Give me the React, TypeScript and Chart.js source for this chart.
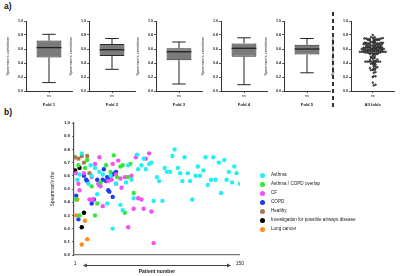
import React, { useEffect, useRef } from 'react';
import { Chart, registerables } from 'chart.js';

Chart.register(...registerables);
Chart.defaults.font.family = '"Liberation Sans", Arial, sans-serif';
Chart.defaults.color = '#222';

// ---------- Panel a) box plots per fold ----------
const foldNames = ['Fold 1', 'Fold 2', 'Fold 3', 'Fold 4', 'Fold 5'];
const foldMin = [0.12, 0.31, 0.10, 0.09, 0.26];
const foldQ1 = [0.48, 0.50, 0.44, 0.49, 0.52];
const foldMedian = [0.62, 0.59, 0.56, 0.61, 0.60];
const foldQ3 = [0.72, 0.67, 0.61, 0.68, 0.66];
const foldMax = [0.81, 0.75, 0.70, 0.76, 0.75];
const sigLabel = 'ns';
const allFoldsName = 'All folds';

// ---------- Panel b) per-patient Spearman's rho ----------
const groupNames = [
  'Asthma',
  'Asthma / COPD overlap',
  'CF',
  'COPD',
  'Healthy',
  'Investigation for possible airways disease',
  'Lung cancer',
];
const groupColors = ['#22f0f2', '#35e835', '#f550f5', '#1f3cf2', '#a67c52', '#000000', '#ff8c1a'];

const asthmaPatients = [3, 5, 7, 13, 15, 16, 19, 21, 23, 26, 30, 33, 35, 38, 42, 44, 47, 49, 52, 54, 57, 58, 61, 63, 65, 68, 70, 72, 75, 77, 80, 82, 84, 87, 89, 91, 94, 96, 98, 100, 103, 105, 107, 110, 112, 114, 117, 119, 121, 124, 126, 128, 131, 133, 136, 138, 140, 143, 145, 147, 150];
const asthmaRho = [0.57, 0.61, 0.77, 0.54, 0.68, 0.60, 0.66, 0.46, 0.63, 0.61, 0.39, 0.60, 0.20, 0.54, 0.38, 0.34, 0.55, 0.68, 0.57, 0.43, 0.76, 0.65, 0.68, 0.73, 0.65, 0.69, 0.70, 0.41, 0.59, 0.56, 0.41, 0.66, 0.63, 0.63, 0.75, 0.80, 0.66, 0.62, 0.56, 0.74, 0.62, 0.56, 0.42, 0.60, 0.67, 0.60, 0.64, 0.74, 0.53, 0.57, 0.74, 0.57, 0.70, 0.47, 0.72, 0.57, 0.63, 0.55, 0.67, 0.62, 0.54];

const overlapPatients = [2, 4, 5, 10, 12, 16, 19, 21, 24, 29, 33, 36, 39, 42, 44, 46, 49, 51, 54];
const overlapRho = [0.42, 0.68, 0.30, 0.66, 0.72, 0.52, 0.30, 0.39, 0.55, 0.68, 0.63, 0.755, 0.59, 0.67, 0.68, 0.32, 0.59, 0.69, 0.47];

const cfPatients = [2, 4, 5, 9, 14, 16, 17, 19, 22, 23, 24, 26, 31, 34, 35, 38, 38, 40, 42, 43, 46, 48, 49, 52, 54, 56, 58, 61, 63, 65, 68, 70, 72];
const cfRho = [0.62, 0.54, 0.49, 0.62, 0.42, 0.59, 0.42, 0.69, 0.54, 0.74, 0.52, 0.37, 0.56, 0.57, 0.69, 0.54, 0.61, 0.715, 0.58, 0.51, 0.59, 0.59, 0.21, 0.60, 0.35, 0.74, 0.43, 0.42, 0.35, 0.73, 0.77, 0.33, 0.09];

const copdPatients = [2, 4, 9, 11, 12, 16, 18, 21, 23, 26, 27, 29, 30, 31, 32, 33, 35, 35, 37, 38];
const copdRho = [0.45, 0.27, 0.60, 0.57, 0.56, 0.39, 0.42, 0.57, 0.53, 0.57, 0.65, 0.56, 0.59, 0.49, 0.48, 0.58, 0.44, 0.61, 0.62, 0.63];

const healthyPatients = [1, 4, 7, 9, 12, 14];
const healthyRho = [0.74, 0.73, 0.75, 0.70, 0.75, 0.62];

const investigationPatients = [1, 5, 7, 9];
const investigationRho = [0.64, 0.66, 0.21, 0.32];

const lungCancerPatients = [2, 3, 7, 10, 12];
const lungCancerRho = [0.30, 0.42, 0.08, 0.26, 0.12];

const groupPatients = [asthmaPatients, overlapPatients, cfPatients, copdPatients, healthyPatients, investigationPatients, lungCancerPatients];
const groupRho = [asthmaRho, overlapRho, cfRho, copdRho, healthyRho, investigationRho, lungCancerRho];

const xTickValues = [1, 150];
const bottomXTitle = 'Patient number';
const rhoTitle = "Spearman's rho";
const corrTitle = "Spearman's correlation";

// ---------- layout ----------
const foldAxisX = [26, 89, 156, 221, 284];
const allAxisX = 351;
const AXIS_COLOR = '#333';

function ChartCanvas({ left, top, width, height, build }: { left: number; top: number; width: number; height: number; build: () => any }) {
  const ref = useRef<HTMLCanvasElement | null>(null);
  useEffect(() => {
    const chart = new Chart(ref.current as HTMLCanvasElement, build());
    return () => chart.destroy();
  }, []);
  return (
    <canvas
      ref={ref}
      width={width}
      height={height}
      style={{ position: 'absolute', left, top, width, height }}
    />
  );
}

function smallYScale(step: number) {
  return {
    min: 0,
    max: 1,
    ticks: {
      stepSize: step,
      callback: (v: any) => Number(v).toFixed(1),
      font: { size: 3.6, weight: 'bold' },
      padding: 1,
      color: '#222',
    },
    grid: { display: true, drawOnChartArea: false, drawTicks: true, tickLength: 2, color: AXIS_COLOR, lineWidth: 0.8 },
    border: { color: AXIS_COLOR, width: 1 },
    title: { display: true, text: corrTitle, font: { size: 3.8 }, padding: 0, color: '#222' },
    afterFit: (s: any) => {
      s.width = 20;
    },
  };
}

function smallXTitle(text: string) {
  return { display: true, text, font: { size: 4.2, weight: 'bold' }, padding: { top: 0, bottom: 0 }, color: '#222' };
}

function buildFold(i: number) {
  return () => ({
    type: 'bar',
    data: {
      labels: [sigLabel],
      datasets: [
        {
          data: [[foldQ1[i], foldQ3[i]]],
          backgroundColor: '#7b7b7b',
          borderColor: '#2a2a2a',
          borderWidth: 1,
          borderSkipped: false,
          barPercentage: 0.54,
          categoryPercentage: 1,
        },
      ],
    },
    options: {
      animation: false,
      responsive: false,
      maintainAspectRatio: false,
      layout: { padding: { top: 6, right: 2, left: 0, bottom: 0 } },
      plugins: { legend: { display: false }, tooltip: { enabled: false } },
      scales: {
        x: {
          ticks: { font: { size: 3.6 }, padding: 1, color: '#222' },
          grid: { display: true, offset: false, drawOnChartArea: false, drawTicks: true, tickLength: 2, color: AXIS_COLOR, lineWidth: 0.8 },
          border: { color: AXIS_COLOR, width: 1 },
          title: smallXTitle(foldNames[i]),
          afterFit: (s: any) => {
            s.height = 16;
          },
        },
        y: smallYScale(0.2),
      },
    },
    plugins: [
      {
        id: 'whiskers',
        afterDatasetsDraw(chart: any) {
          const bar = chart.getDatasetMeta(0).data[0] as any;
          const y = chart.scales.y;
          const cx = bar.x;
          const w = bar.width;
          const ctx = chart.ctx;
          const yMin = y.getPixelForValue(foldMin[i]);
          const yQ1 = y.getPixelForValue(foldQ1[i]);
          const yQ3 = y.getPixelForValue(foldQ3[i]);
          const yMax = y.getPixelForValue(foldMax[i]);
          const yMed = y.getPixelForValue(foldMedian[i]);
          ctx.save();
          ctx.strokeStyle = '#222';
          ctx.lineWidth = 1;
          ctx.beginPath();
          ctx.moveTo(cx, yQ1);
          ctx.lineTo(cx, yMin);
          ctx.moveTo(cx, yQ3);
          ctx.lineTo(cx, yMax);
          ctx.moveTo(cx - w * 0.27, yMin);
          ctx.lineTo(cx + w * 0.27, yMin);
          ctx.moveTo(cx - w * 0.27, yMax);
          ctx.lineTo(cx + w * 0.27, yMax);
          ctx.stroke();
          ctx.lineWidth = 1.3;
          ctx.beginPath();
          ctx.moveTo(cx - w / 2, yMed);
          ctx.lineTo(cx + w / 2, yMed);
          ctx.stroke();
          ctx.restore();
        },
      },
    ],
  });
}

// beeswarm layout of all patient values (x offsets derived from the values)
function beeswarm(values: number[], bin: number, spacing: number) {
  const bins = new Map<number, number[]>();
  values.forEach((v) => {
    const b = Math.round(v / bin);
    if (!bins.has(b)) bins.set(b, []);
    (bins.get(b) as number[]).push(v);
  });
  const pts: { x: number; y: number }[] = [];
  bins.forEach((vals) => {
    vals.sort((a, b) => a - b);
    const n = vals.length;
    vals.forEach((v, k) => {
      const slot = k === 0 ? 0 : k % 2 === 1 ? Math.ceil(k / 2) : -k / 2;
      const off = n % 2 === 0 ? slot + 0.5 * (k === 0 ? 1 : Math.sign(slot) || 1) : slot;
      pts.push({ x: off * spacing, y: v });
    });
  });
  return pts;
}

function buildAllFolds() {
  const allValues = ([] as number[]).concat(...groupRho);
  const pts = beeswarm(allValues, 0.022, 0.085);
  return () => ({
    type: 'scatter',
    data: {
      datasets: [
        {
          data: pts,
          pointRadius: 0.9,
          pointBackgroundColor: '#555',
          pointBorderColor: '#111',
          pointBorderWidth: 0.5,
        },
      ],
    },
    options: {
      animation: false,
      responsive: false,
      maintainAspectRatio: false,
      layout: { padding: { top: 6, right: 2, left: 0, bottom: 0 } },
      plugins: { legend: { display: false }, tooltip: { enabled: false } },
      scales: {
        x: {
          type: 'linear',
          min: -1,
          max: 1,
          afterBuildTicks: (s: any) => {
            s.ticks = [{ value: 0 }];
          },
          ticks: { font: { size: 3.6 }, padding: 1, color: '#222', callback: () => sigLabel },
          grid: { display: true, drawOnChartArea: false, drawTicks: true, tickLength: 2, color: AXIS_COLOR, lineWidth: 0.8 },
          border: { color: AXIS_COLOR, width: 1 },
          title: smallXTitle(allFoldsName),
          afterFit: (s: any) => {
            s.height = 16;
          },
        },
        y: smallYScale(0.1),
      },
    },
  });
}

function buildPatients() {
  return () => ({
    type: 'scatter',
    data: {
      datasets: groupNames.map((name, g) => ({
        label: name,
        data: groupPatients[g].map((p, k) => ({ x: p, y: groupRho[g][k] })),
        pointRadius: 2.2,
        pointBorderWidth: 0,
        pointBackgroundColor: groupColors[g],
        pointBorderColor: groupColors[g],
      })),
    },
    options: {
      animation: false,
      responsive: false,
      maintainAspectRatio: false,
      layout: { padding: { top: 8, right: 7, left: 0, bottom: 0 } },
      plugins: { legend: { display: false }, tooltip: { enabled: false } },
      scales: {
        x: {
          type: 'linear',
          min: 0,
          max: 150,
          afterBuildTicks: (s: any) => {
            s.ticks = xTickValues.map((v) => ({ value: v }));
          },
          ticks: { font: { size: 5 }, padding: 6, color: '#222', maxRotation: 0, callback: (v: any) => String(v) },
          grid: { display: false, drawTicks: false },
          border: { color: '#777', width: 1.2 },
          title: { display: true, text: bottomXTitle, font: { size: 5, weight: 'bold' }, padding: { top: 0, bottom: 1 }, color: '#222' },
          afterFit: (s: any) => {
            s.height = 21;
          },
        },
        y: {
          min: 0,
          max: 1,
          ticks: { stepSize: 0.1, callback: (v: any) => Number(v).toFixed(1), font: { size: 4.4, weight: 'bold' }, padding: 2, color: '#222' },
          grid: { display: true, drawOnChartArea: false, drawTicks: true, tickLength: 2, color: '#555', lineWidth: 0.8 },
          border: { color: '#555', width: 1.2 },
          title: { display: true, text: rhoTitle, font: { size: 5 }, padding: 0, color: '#222' },
          afterFit: (s: any) => {
            s.width = 24;
          },
        },
      },
    },
    plugins: [
      {
        id: 'patientArrow',
        afterDraw(chart: any) {
          const x = chart.scales.x;
          const ctx = chart.ctx;
          const y = x.top + 10.5;
          const x0 = x.getPixelForValue(8);
          const x1 = x.getPixelForValue(142);
          ctx.save();
          ctx.strokeStyle = '#444';
          ctx.fillStyle = '#444';
          ctx.lineWidth = 1.2;
          ctx.beginPath();
          ctx.moveTo(x0 + 3, y);
          ctx.lineTo(x1 - 3, y);
          ctx.stroke();
          ctx.beginPath();
          ctx.moveTo(x0, y);
          ctx.lineTo(x0 + 4, y - 2);
          ctx.lineTo(x0 + 4, y + 2);
          ctx.closePath();
          ctx.moveTo(x1, y);
          ctx.lineTo(x1 - 4, y - 2);
          ctx.lineTo(x1 - 4, y + 2);
          ctx.closePath();
          ctx.fill();
          ctx.restore();
        },
      },
    ],
  });
}

export default function App() {
  const font = '"Liberation Sans", Arial, sans-serif';
  return (
    <div style={{ position: 'fixed', left: 0, top: 0, width: 400, height: 276, background: '#fff', overflow: 'hidden', fontFamily: font }}>
      <div style={{ position: 'absolute', left: 4, top: 1, fontSize: 8.5, fontWeight: 'bold', color: '#111' }}>a)</div>
      <div style={{ position: 'absolute', left: 4, top: 107, fontSize: 8.5, fontWeight: 'bold', color: '#111' }}>b)</div>
      {foldNames.map((_, i) => (
        <ChartCanvas key={i} left={foldAxisX[i] - 20} top={15} width={68} height={92} build={buildFold(i)} />
      ))}
      <svg style={{ position: 'absolute', left: 330, top: 12, width: 6, height: 96 }} width={6} height={96}>
        <line x1={3} y1={0} x2={3} y2={96} stroke="#000" strokeWidth={1.6} strokeDasharray="4 3" />
      </svg>
      <ChartCanvas left={allAxisX - 20} top={15} width={68} height={92} build={buildAllFolds()} />
      <ChartCanvas left={50} top={115} width={200} height={161} build={buildPatients()} />
      {groupNames.map((name, g) => (
        <div key={name} style={{ position: 'absolute', left: 260, top: 172 + g * 9, height: 6, display: 'flex', alignItems: 'center', whiteSpace: 'nowrap' }}>
          <span style={{ display: 'inline-block', width: 5, height: 5, borderRadius: '50%', background: groupColors[g], marginRight: 6 }} />
          <span style={{ fontSize: 4.6, color: '#222', lineHeight: '6px' }}>{name}</span>
        </div>
      ))}
    </div>
  );
}
